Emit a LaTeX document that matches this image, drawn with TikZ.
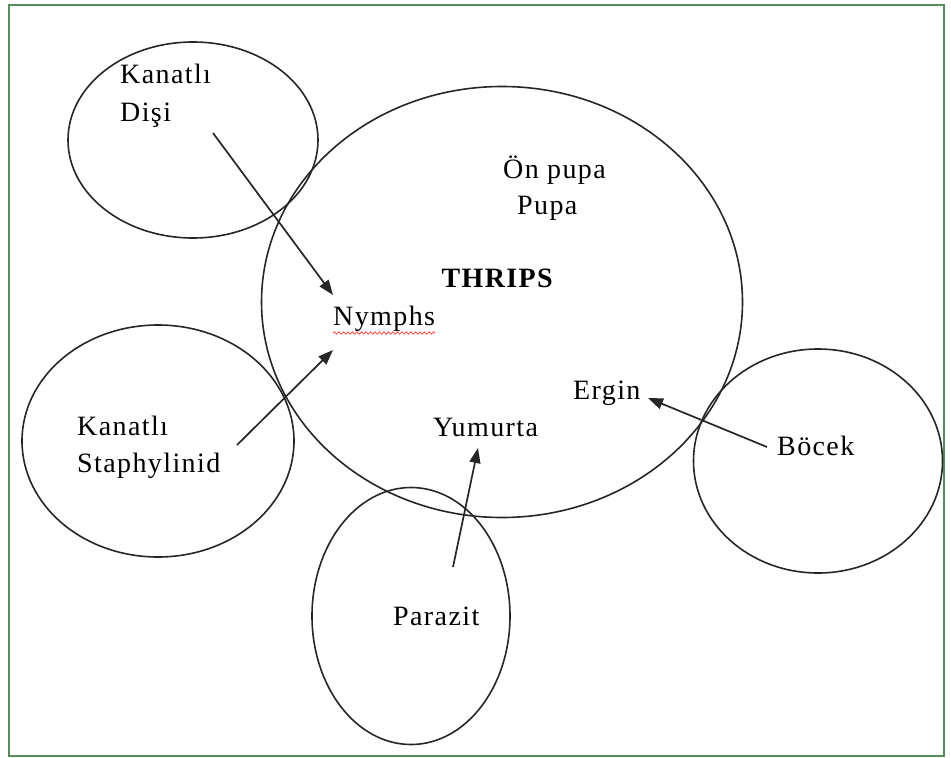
\documentclass[tikz,border=0pt]{standalone}
\usepackage{fontspec}
\setmainfont{Liberation Serif}[LetterSpace=5]
\usetikzlibrary{shapes.geometric,arrows.meta,decorations.pathmorphing}
\definecolor{framegreen}{RGB}{88,140,90}
\begin{document}
\begin{tikzpicture}[x=1pt,y=-1pt,
  blob/.style={draw=black!85,line width=1.6pt,ellipse,inner sep=0pt},
  lbl/.style={anchor=base west,inner sep=0pt,font=\fontsize{28}{34}\selectfont},
  arr/.style={draw=black!85,line width=1.7pt,-{Triangle[length=15pt,width=11pt]}},
  squiggle/.style={draw=red!80,line width=0.7pt,decorate,decoration={snake,amplitude=1.2pt,segment length=4.5pt}}]
\useasboundingbox (0,0) rectangle (951,758);
\node[draw=framegreen,line width=2pt,minimum width=935pt,minimum height=751pt,anchor=north west,inner sep=0pt] (frame) at (8,4) {};
% ellipses
\node[blob,minimum width=250pt,minimum height=196pt] (dishi) at (193,140) {};
\node[blob,minimum width=481pt,minimum height=431pt] (thrips) at (502,302) {};
\node[blob,minimum width=272pt,minimum height=232pt] (staph) at (158,441) {};
\node[blob,minimum width=249pt,minimum height=224pt] (bocek) at (818,461) {};
\node[blob,minimum width=198pt,minimum height=257pt] (parazit) at (411,616) {};
% texts
\node[lbl] (t1) at (120,83) {Kanatlı};
\node[lbl] (t2) at (120,121) {Dişi};
\node[lbl] (t3) at (503,178) {Ön pupa};
\node[lbl] (t4) at (517,214) {Pupa};
\node[lbl,anchor=base east,font=\fontsize{28}{34}\selectfont\bfseries] (t5) at (553,287) {THRIPS};
\node[lbl] (t6) at (333,325) {Nymphs};
\node[lbl] (t7) at (573,399) {Ergin};
\node[lbl] (t8) at (433,436) {Yumurta};
\node[lbl] (t9) at (77,435) {Kanatlı};
\node[lbl] (t10) at (77,472) {Staphylinid};
\node[lbl] (t11) at (777,455) {Böcek};
\node[lbl] (t12) at (393,625) {Parazit};
\draw[squiggle] (t6.base west) ++(0,8) coordinate (w1) -- (t6.base east |- w1);
% arrows
\coordinate (a1s) at (213,133); \coordinate (a1e) at (333,295);
\coordinate (a2s) at (237,445); \coordinate (a2e) at (333,350);
\coordinate (a3s) at (453,567); \coordinate (a3e) at (478,448);
\coordinate (a4s) at (767,447); \coordinate (a4e) at (648,398);
\draw[arr] (a1s) -- (a1e);
\draw[arr] (a2s) -- (a2e);
\draw[arr] (a3s) -- (a3e);
\draw[arr] (a4s) -- (a4e);
\end{tikzpicture}
\end{document}
